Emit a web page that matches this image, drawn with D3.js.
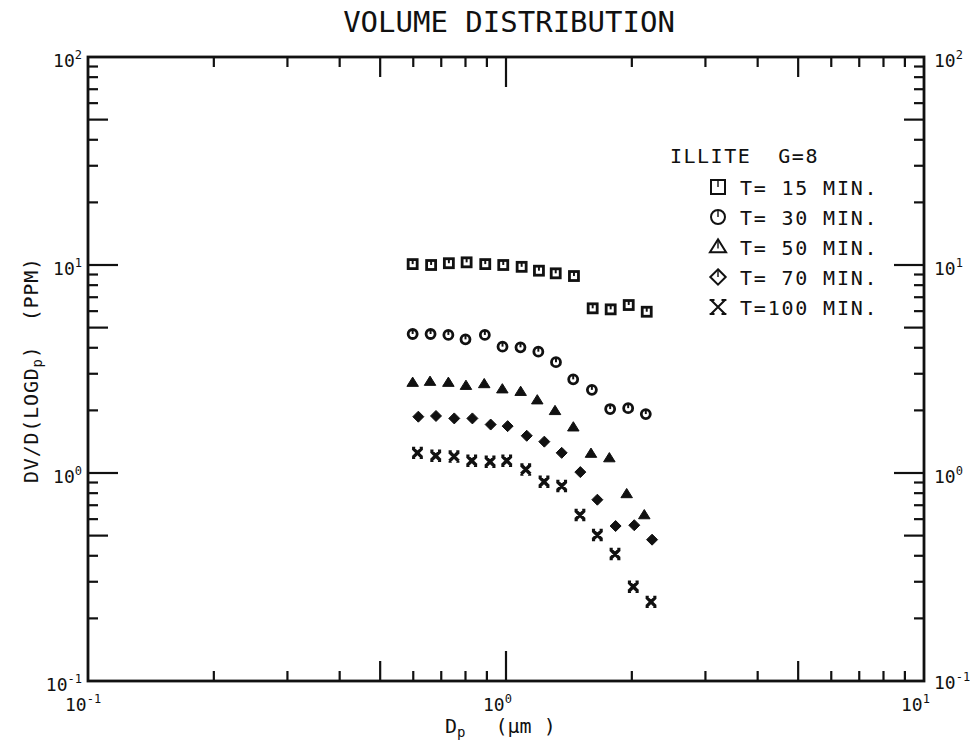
<!DOCTYPE html>
<html>
<head>
<meta charset="utf-8">
<script src="https://cdn.jsdelivr.net/npm/d3@7"></script>
<style>
  body { margin: 0; background: #fff; }
  text { font-family: "DejaVu Sans Mono", monospace; fill: #111; white-space: pre; }
</style>
</head>
<body>
<script>
// data
const series = ["T= 15 MIN.", "T= 30 MIN.", "T= 50 MIN.", "T= 70 MIN.", "T=100 MIN."];
const shapes = ["square", "circle", "triangle", "diamond", "cross"];

const dpA = [0.598,0.662,0.730,0.805,0.892,0.985,1.090,1.199,1.315,1.454,1.612,1.780,1.966,2.171];
const dpB = [0.598,0.660,0.728,0.800,0.890,0.981,1.083,1.195,1.317,1.448,1.605,1.775,1.960,2.160];
const dpC = [0.598,0.658,0.728,0.802,0.887,0.980,1.084,1.188,1.310,1.449,1.597,1.767,1.944,2.142];
const dpD = [0.617,0.680,0.752,0.831,0.919,1.009,1.121,1.235,1.359,1.506,1.654,1.829,2.027,2.236];
const dpE = [0.614,0.679,0.751,0.828,0.916,1.004,1.115,1.233,1.359,1.503,1.654,1.823,2.016,2.223];

const t15  = [10.1,10.0,10.2,10.3,10.1,10.0,9.8,9.39,9.12,8.85,6.19,6.12,6.42,5.96];
const t30  = [4.66,4.66,4.61,4.39,4.61,4.05,4.02,3.83,3.41,2.82,2.51,2.03,2.05,1.92];
const t50  = [2.72,2.75,2.72,2.63,2.68,2.53,2.46,2.24,1.99,1.66,1.24,1.18,0.793,0.628];
const t70  = [1.865,1.88,1.83,1.83,1.71,1.68,1.51,1.415,1.25,1.01,0.744,0.556,0.561,0.478];
const t100 = [1.25,1.21,1.20,1.146,1.133,1.146,1.04,0.908,0.866,0.628,0.503,0.408,0.284,0.240];

const xs = [dpA, dpB, dpC, dpD, dpE];
const ys = [t15, t30, t50, t70, t100];

const W = 970, H = 744;
const svg = d3.select("body").append("svg").attr("width", W).attr("height", H);

const x = d3.scaleLog().domain([0.1, 10]).range([88, 924]);
const y = d3.scaleLog().domain([0.1, 100]).range([681, 57]);

// frame
svg.append("rect")
  .attr("x", x(0.1)).attr("y", y(100))
  .attr("width", x(10) - x(0.1)).attr("height", y(0.1) - y(100))
  .attr("fill", "none").attr("stroke", "#111").attr("stroke-width", 2.8);

function tickLen(v) {
  const m = Math.round(v / Math.pow(10, Math.floor(Math.log10(v) + 1e-9)));
  return m === 1 ? 30 : (m === 5 ? 20 : 10);
}
const xt = x.ticks().filter(v => v > 0.1 && v < 10);
const yt = y.ticks().filter(v => v > 0.1 && v < 100);

const tk = svg.append("g").attr("stroke", "#111").attr("stroke-width", 2.2);
xt.forEach(v => {
  tk.append("line").attr("x1", x(v)).attr("x2", x(v)).attr("y1", y(0.1)).attr("y2", y(0.1) - tickLen(v));
  tk.append("line").attr("x1", x(v)).attr("x2", x(v)).attr("y1", y(100)).attr("y2", y(100) + tickLen(v));
});
yt.forEach(v => {
  tk.append("line").attr("y1", y(v)).attr("y2", y(v)).attr("x1", x(0.1)).attr("x2", x(0.1) + tickLen(v));
  tk.append("line").attr("y1", y(v)).attr("y2", y(v)).attr("x1", x(10)).attr("x2", x(10) - tickLen(v));
});

// power-of-ten labels
function pow10(sel, e) {
  sel.append("tspan").text("10");
  sel.append("tspan").attr("dy", -8).attr("font-size", 12).text(e);
}
const decX = [0.1, 1, 10], decY = [0.1, 1, 10, 100];
decX.forEach(v => {
  const e = Math.round(Math.log10(v));
  const t = svg.append("text").attr("x", x(v) - 23).attr("y", 711)
    .attr("font-family", "DejaVu Sans").attr("font-size", 18);
  pow10(t, e < 0 ? "-1" : String(e));
});
decY.forEach(v => {
  const e = Math.round(Math.log10(v));
  const lab = e < 0 ? "-1" : String(e);
  const t1 = svg.append("text").attr("x", x(0.1) - 6).attr("y", y(v) + 10)
    .attr("text-anchor", "end").attr("font-family", "DejaVu Sans").attr("font-size", 18);
  pow10(t1, lab);
  const t2 = svg.append("text").attr("x", x(10) + 10).attr("y", y(v) + (e < 0 ? 8 : 10))
    .attr("font-family", "DejaVu Sans").attr("font-size", 18);
  pow10(t2, lab);
});

// title and axis titles
svg.append("text").attr("x", 509).attr("y", 32).attr("text-anchor", "middle")
  .attr("font-size", 29).text("VOLUME DISTRIBUTION");

const xl = svg.append("text").attr("x", 445).attr("y", 733).attr("font-size", 20);
xl.append("tspan").text("D");
xl.append("tspan").attr("dy", 4).attr("font-size", 14).text("p");
xl.append("tspan").attr("dy", -4).attr("dx", 30).text("(\u03bcm )");

const yl = svg.append("text").attr("transform", "translate(38,483) rotate(-90)")
  .attr("font-size", 20).attr("letter-spacing", 0.8);
yl.append("tspan").text("DV/D(LOGD");
yl.append("tspan").attr("dy", 4).attr("font-size", 14).text("p");
yl.append("tspan").attr("dy", -4).text(")");
yl.append("tspan").attr("dx", 24).text("(PPM)");

// marker shapes
function mark(g, shape, s, filled, sw) {
  const stroke = "#111";
  if (shape === "square") {
    g.append("rect").attr("x", -s).attr("y", -s).attr("width", 2 * s).attr("height", 2 * s)
      .attr("fill", "none").attr("stroke", stroke).attr("stroke-width", sw);
    g.append("line").attr("x1", 0).attr("x2", 0).attr("y1", -s).attr("y2", 0).attr("stroke", stroke).attr("stroke-width", sw * 0.7);
  } else if (shape === "circle") {
    g.append("circle").attr("r", s).attr("fill", "none").attr("stroke", stroke).attr("stroke-width", sw);
    g.append("line").attr("x1", 0).attr("x2", 0).attr("y1", -s).attr("y2", 0).attr("stroke", stroke).attr("stroke-width", sw * 0.7);
  } else if (shape === "triangle") {
    g.append("path").attr("d", `M0,${-s * 1.1}L${s * 1.15},${s * 0.75}L${-s * 1.15},${s * 0.75}Z`)
      .attr("fill", filled ? stroke : "none").attr("stroke", stroke).attr("stroke-width", sw);
    if (!filled) g.append("line").attr("x1", 0).attr("x2", 0).attr("y1", -s).attr("y2", s * 0.2).attr("stroke", stroke).attr("stroke-width", sw * 0.7);
  } else if (shape === "diamond") {
    g.append("path").attr("d", `M0,${-s * 1.1}L${s * 1.1},0L0,${s * 1.1}L${-s * 1.1},0Z`)
      .attr("fill", filled ? stroke : "none").attr("stroke", stroke).attr("stroke-width", sw);
    if (!filled) g.append("line").attr("x1", 0).attr("x2", 0).attr("y1", -s).attr("y2", 0).attr("stroke", stroke).attr("stroke-width", sw * 0.7);
  } else {
    const p = d3.path();
    p.moveTo(-s, -s); p.lineTo(s, s);
    p.moveTo(s, -s); p.lineTo(-s, s);
    p.moveTo(-s * 1.2, -s); p.lineTo(-s * 0.5, -s);
    p.moveTo(s * 0.5, -s); p.lineTo(s * 1.2, -s);
    p.moveTo(-s * 1.2, s); p.lineTo(-s * 0.5, s);
    p.moveTo(s * 0.5, s); p.lineTo(s * 1.2, s);
    g.append("path").attr("d", p.toString()).attr("fill", "none").attr("stroke", stroke).attr("stroke-width", sw);
  }
}

// data points
const filledData = [false, false, true, true, false];
const dataSize = [4.5, 4.5, 5, 5, 4.5];
const dataStroke = [2.8, 2.8, 1, 1, 3.4];
series.forEach((name, i) => {
  const pts = xs[i].map((d, j) => [d, ys[i][j]]);
  svg.append("g").selectAll("g").data(pts).join("g")
    .attr("transform", d => `translate(${x(d[0])},${y(d[1])})`)
    .each(function () { mark(d3.select(this), shapes[i], dataSize[i], filledData[i], dataStroke[i]); });
});

// legend
svg.append("text").attr("x", 670).attr("y", 163).attr("font-size", 20).attr("letter-spacing", 1.5)
  .text("ILLITE  G=8");
const leg = svg.append("g").selectAll("g").data(series).join("g")
  .attr("transform", (d, i) => `translate(718,${187 + i * 30})`);
leg.each(function (d, i) { mark(d3.select(this), shapes[i], 7, false, 2); });
leg.append("text").attr("x", 22).attr("y", 7.5).attr("font-size", 20).attr("letter-spacing", 1.8).text(d => d);
</script>
</body>
</html>
